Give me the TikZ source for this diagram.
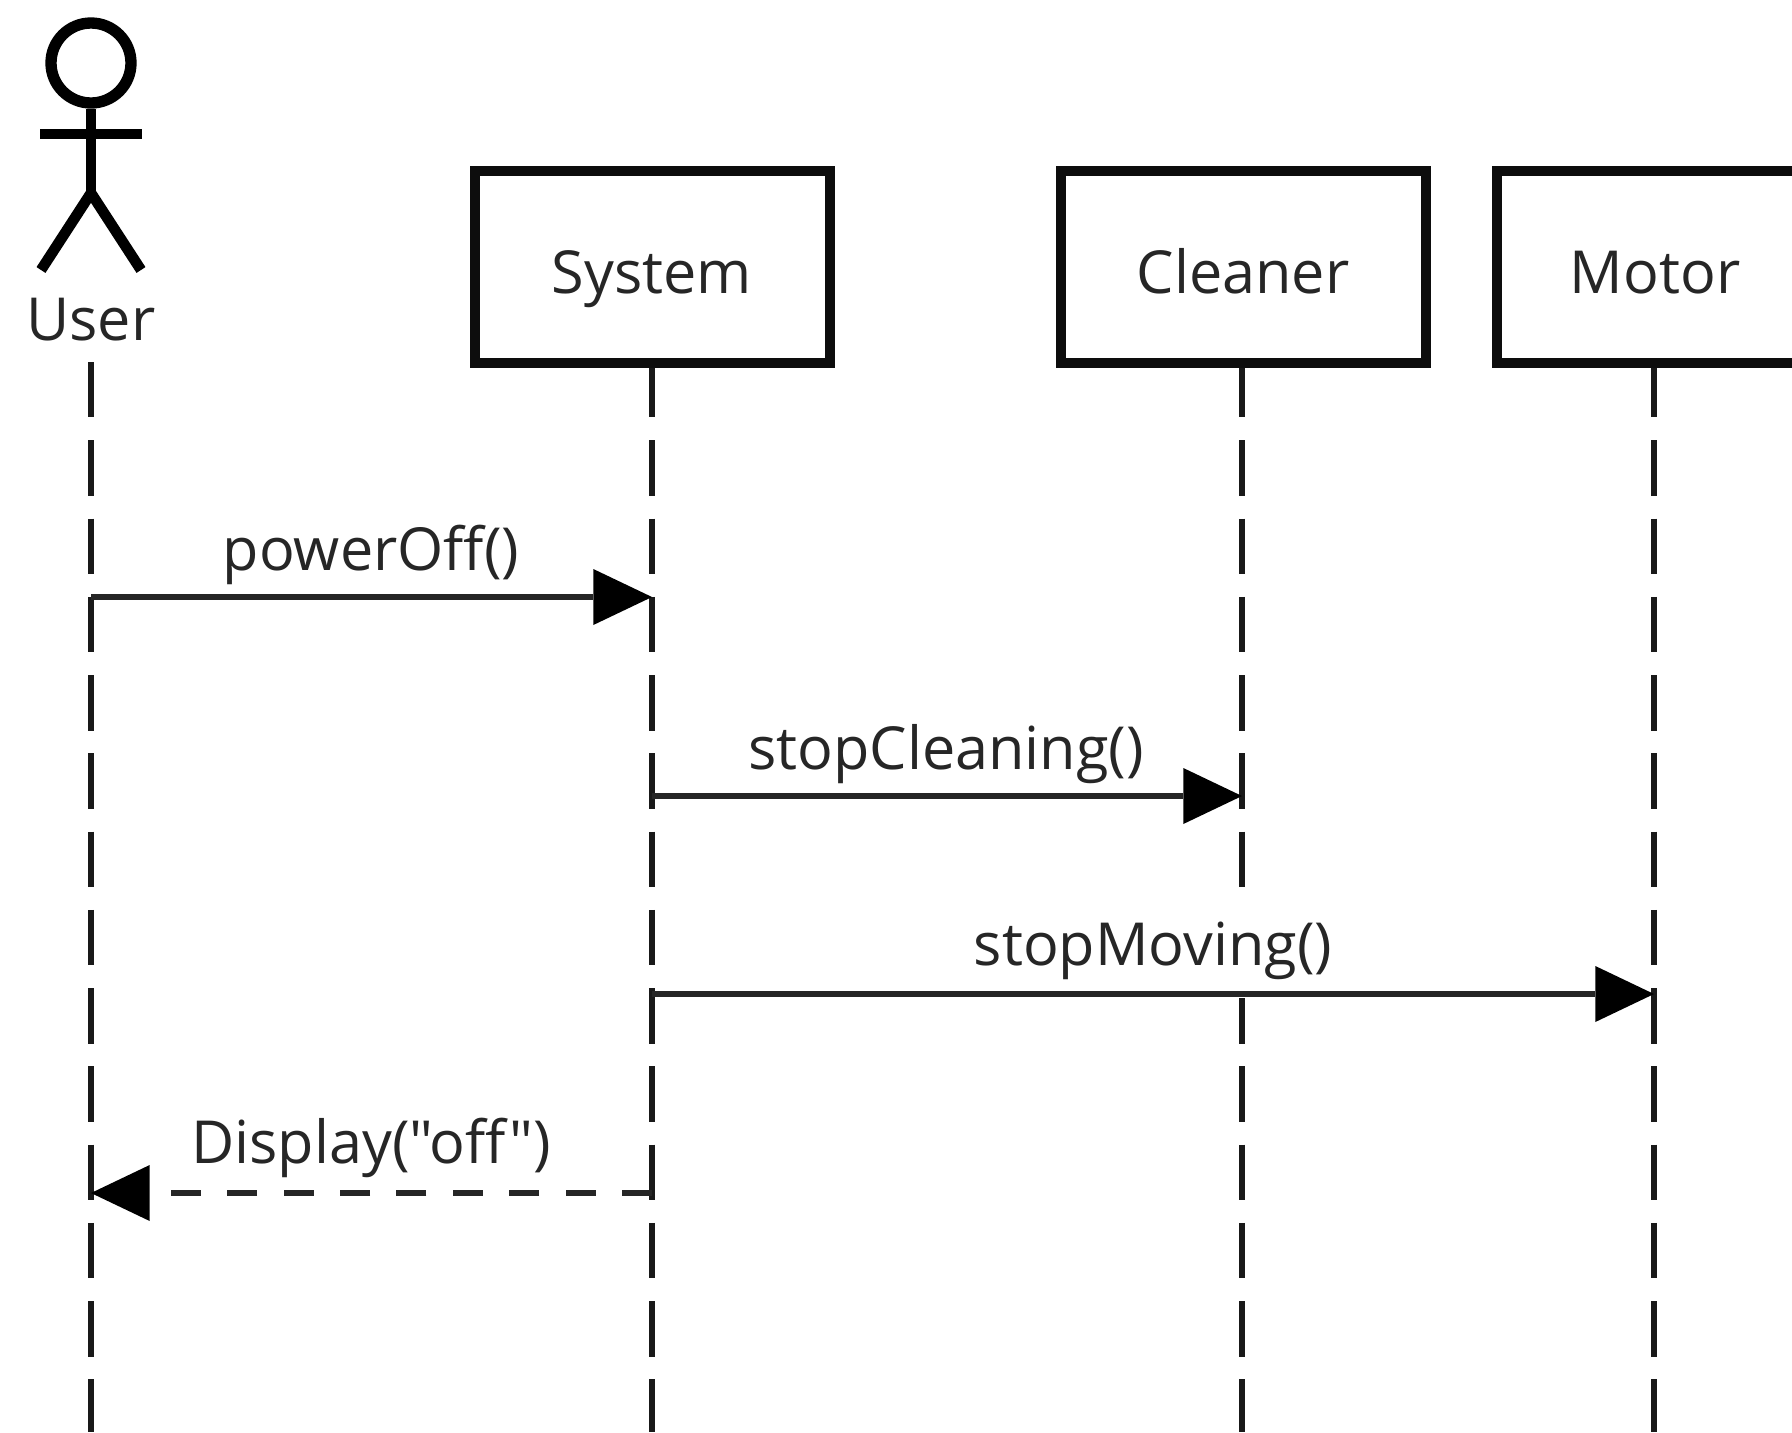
\documentclass[tikz,border=0pt]{standalone}
\usepackage{fontspec}
\setmainfont{Open Sans}[Ligatures=TeXOff]
\usetikzlibrary{arrows.meta}
\tikzset{
  x=0.75pt,y=-0.75pt,
  stick/.style={line width=8pt,black},
  lifebox/.style={draw=black!95,line width=7.5pt,fill=white,minimum height=144pt,anchor=center,inner sep=0pt},
  life/.style={line width=4.8pt,black!90,dash pattern=on 41.6pt off 17.1pt},
  msg/.style={line width=4.2pt,black!85,-{Triangle[length=44pt,width=42pt,fill=black,line width=0pt]}},
  lab/.style={font=\fontsize{44.5}{50}\selectfont,text=black!85,inner sep=0pt,anchor=base},
  msglab/.style={lab,fill=white,inner ysep=14pt,inner xsep=3pt},
}
\begin{document}
\begin{tikzpicture}
\useasboundingbox (0,0) rectangle (1792,1432);
\clip (0,0) rectangle (1792,1432);
\fill[white] (0,0) rectangle (1792,1432);
% lifeline ends
\coordinate (ue) at (91,1432);
\coordinate (se) at (652,1432);
\coordinate (ce) at (1242,1432);
\coordinate (me) at (1654,1432);
\coordinate (us) at (91,362);
\coordinate (ss) at (652,362);
\coordinate (cs) at (1242,362);
\coordinate (ms) at (1654,362);
\draw[life] (us) -- (ue);
\draw[life] (ss) -- (se);
\draw[life] (cs) -- (ce);
\draw[life] (ms) -- (me);
% actor
\node[draw=black,circle,line width=8.5pt,minimum size=60pt,inner sep=0pt] (head) at (91,63) {};
\coordinate (hip) at (91,193);
\coordinate (armL) at (40,134);
\coordinate (armR) at (142,134);
\coordinate (legL) at (41,270);
\coordinate (legR) at (141,270);
\draw[stick] (head.south) -- (hip);
\draw[stick] (armL) -- (armR);
\draw[stick,line join=round] (legL) -- (hip) -- (legR);
\node[lab] (user) at (91,340) {User};
% boxes
\node[lifebox,minimum width=266pt] (system) at (652.5,266.5) {};
\node[lifebox,minimum width=274pt] (cleaner) at (1243.5,266.5) {};
\node[lifebox,minimum width=236pt] (motor) at (1654,266.5) {};
\node[lab] (tsystem) at (652,293) {System};
\node[lab] (tcleaner) at (1243,293) {Cleaner};
\node[lab] (tmotor) at (1655,293) {Motor};
% labels
\node[msglab] (l1) at (371,570) {powerOff()};
\node[msglab] (l2) at (946,769) {stopCleaning()};
\node[msglab] (l3) at (1153,965) {stopMoving()};
\node[msglab] (l4) at (371,1163) {Display("off")};
% messages
\coordinate (m1a) at (91,597); \coordinate (m1b) at (652,597);
\coordinate (m2a) at (652,796); \coordinate (m2b) at (1242,796);
\coordinate (m3a) at (652,994); \coordinate (m3b) at (1654,994);
\coordinate (m4a) at (652,1193); \coordinate (m4b) at (91,1193);
\draw[msg] (m1a) -- (m1b);
\draw[msg] (m2a) -- (m2b);
\draw[msg] (m3a) -- (m3b);
\draw[msg,dash pattern=on 22.5pt off 19.8pt] (m4a) -- (m4b);
\end{tikzpicture}
\end{document}
